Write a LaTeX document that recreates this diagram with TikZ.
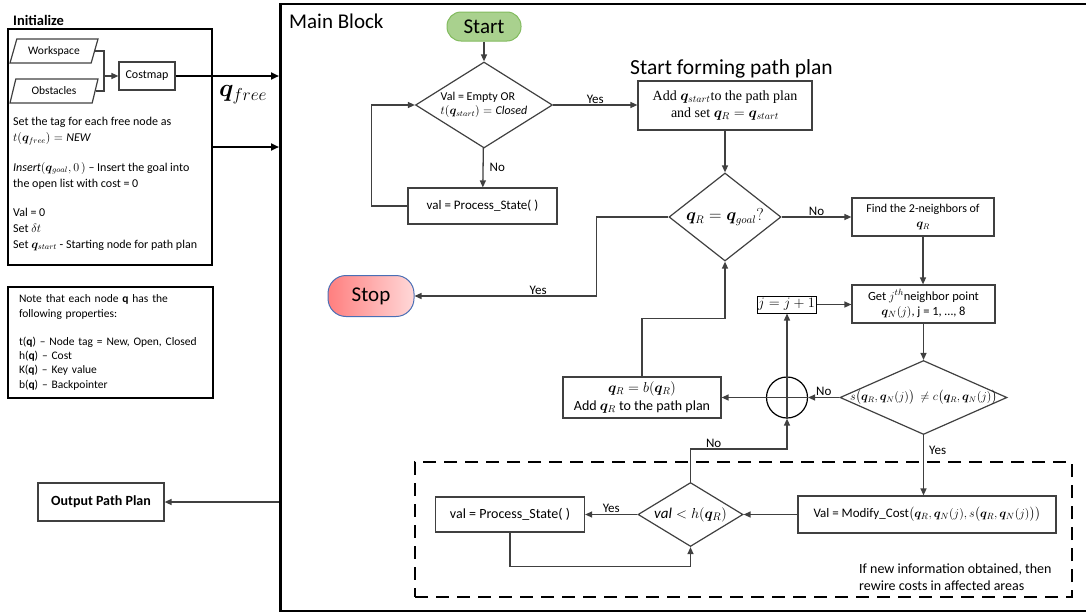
\documentclass[tikz,border=0pt]{standalone}
\usepackage{amsmath,bm}
\usepackage{fontspec}
\setmainfont{Carlito}
\newfontfamily\cam{Liberation Serif}
\usetikzlibrary{shapes.geometric,arrows.meta}
\definecolor{lc}{HTML}{404040}
\definecolor{startf}{HTML}{A9D18E}
\definecolor{startb}{HTML}{82BB5E}
\definecolor{stopl}{HTML}{FF7F7F}
\definecolor{stopr}{HTML}{FFD8D8}
\definecolor{stopb}{HTML}{4A6FB5}
\begin{document}
\begin{tikzpicture}[x=1pt,y=-1pt,
  conn/.style={draw=lc,line width=1.3pt},
  arr/.style={draw=lc,line width=1.3pt,-{Triangle[length=7pt,width=6pt]}},
  barr/.style={draw=black,line width=2pt,-{Triangle[length=8pt,width=7pt]}},
  box/.style={draw=lc,line width=1.2pt,rectangle,inner sep=2pt,align=center,font=\fontsize{13}{15}\selectfont},
  dia/.style={draw=lc,line width=1.2pt,diamond,inner sep=0pt},
  para/.style={draw=lc,line width=1.2pt,trapezium,trapezium left angle=60,trapezium right angle=120,trapezium stretches body,minimum width=88pt,minimum height=24pt,inner sep=1pt,font=\fontsize{11.5}{13}\selectfont},
  lbl/.style={font=\fontsize{13}{14}\selectfont,inner sep=1pt},
  txt/.style={anchor=west,align=left,inner sep=0pt,font=\fontsize{12}{16}\selectfont},
]
\useasboundingbox (0,0) rectangle (1086,613);

% Main block frame
\node[draw,line width=2.5pt,minimum width=815pt,minimum height=607pt,anchor=north west,inner sep=0pt] (mb) at (279,2.5) {};
\node[anchor=west,inner sep=0pt,font=\fontsize{21}{21}\selectfont] (mbt) at (289,21) {Main Block};
\node[anchor=west,inner sep=0pt,font=\fontsize{21.5}{21.5}\selectfont] (sfp) at (630,69) {Start forming path plan};

% Initialize block
\node[anchor=west,inner sep=0pt,font=\bfseries\fontsize{14.5}{15}\selectfont] (initt) at (13,20) {Initialize};
\node[draw,line width=2.5pt,minimum width=204pt,minimum height=236pt,inner sep=0pt] (init) at (110,147) {};
\node[para] (wsp) at (54,51) {Workspace};
\node[para] (obs) at (54,91) {Obstacles};
\node[box,font=\fontsize{12}{13}\selectfont,minimum width=56pt,minimum height=28pt] (cm) at (147,76) {Costmap};
\coordinate (jn) at (104,76);
\draw[conn] (wsp.east) -| (jn);
\draw[conn] (obs.east) -| (jn);
\draw[arr] (jn) -- (cm.west);
\node[txt] (t1) at (13,131) {Set the tag for each free node as\\$t(\bm q_{free}) = \mathit{NEW}$};
\node[txt] (t2) at (13,175.5) {$\mathit{Insert}(\bm q_{goal}, 0\,)$ – Insert the goal into\\the open list with cost = 0};
\node[txt] (t3) at (13,229) {Val = 0\\Set $\delta t$\\Set $\bm q_{start}$ - Starting node for path plan};

\draw[barr] (cm.east) -- (cm.east -| mb.west);
\draw[barr] (init.east) -- (init.east -| mb.west);
\node[font=\fontsize{25}{25}\selectfont] (qf) at (243,95) {$\bm q_{free}$};

% Note
\node[draw,line width=2.5pt,minimum width=205pt,minimum height=111pt,text width=183pt,align=left,inner xsep=11pt,font=\fontsize{11.5}{14.2}\selectfont] (note) at (110.5,342.5)
 {Note that each node \textbf{q} has the\\following properties:\\[14.2pt]t(\textbf{q}) – Node tag = New, Open, Closed\\h(\textbf{q}) – Cost\\K(\textbf{q}) – Key value\\b(\textbf{q}) – Backpointer};

% Output
\node[box,font=\bfseries\fontsize{14}{15}\selectfont,minimum width=126pt,minimum height=38pt] (out) at (101,502) {Output Path Plan};
\draw[arr] (out.east -| mb.west) -- (out.east);

% Main flow
\node[draw=startb,line width=1pt,fill=startf,rounded corners=14pt,minimum width=74pt,minimum height=29pt,inner sep=0pt,font=\fontsize{21}{21}\selectfont] (start) at (484,26.5) {Start};
\node[dia,minimum width=137pt,minimum height=86pt,label={[lbl,align=left,font=\fontsize{12}{13.5}\selectfont]center:{Val = Empty OR\\$t(\bm q_{start}) = \mathit{Closed}$}}] (d1) at (484,105) {};
\draw[arr] (start) -- (d1);
\node[box,font=\cam\fontsize{14}{17}\selectfont,minimum width=174pt,minimum height=49pt] (add) at (725,105.5) {Add $\bm q_{start}$to the path plan\\and set $\bm q_R = \bm q_{start}$};
\draw[arr] (d1.east) -- (d1.east -| add.west) node[lbl,midway,above]{Yes};
\node[box,minimum width=149pt,minimum height=36pt] (ps1) at (482.5,206) {val = Process\_State( )};
\draw[arr] (d1) -- (ps1) node[lbl,midway,right=5pt]{No};
\draw[arr] (ps1.west) -- ++(-36,0) |- (d1.west);

\node[dia,minimum width=112pt,minimum height=88pt,label={[font=\fontsize{16}{16}\selectfont]center:$\bm q_R = \bm q_{goal}?$}] (d2) at (725,217) {};
\draw[arr] (add) -- (d2);
\node[box,font=\fontsize{12}{15}\selectfont,minimum width=142pt,minimum height=38pt] (find) at (923,217) {Find the 2-neighbors of\\$\bm q_R$};
\draw[arr] (d2.east) -- (find.west) node[lbl,midway,above]{No};
\node[box,font=\fontsize{12.5}{15}\selectfont,minimum width=143pt,minimum height=38pt] (get) at (923.5,304) {Get $j^{th}$neighbor point\\$\bm q_N(j)$, j = 1, …, 8};
\draw[arr] (find) -- (find |- get.north);

\node[draw=stopb,line width=1pt,left color=stopl,right color=stopr,rounded corners=18pt,minimum width=86pt,minimum height=41pt,font=\fontsize{21}{21}\selectfont] (stop) at (371,296) {Stop};
\draw[arr] (d2.west) -- ++(-72,0) |- (stop.east) node[lbl,pos=0.66,above]{Yes};

\node[draw=black,line width=1pt,inner sep=1pt,minimum width=59pt,minimum height=17pt,font=\fontsize{13.5}{13.5}\selectfont] (jb) at (786.5,304.5) {$j = j+1$};
\draw[arr] (jb.east) -- (jb.east -| get.west);

\node[dia,minimum width=167pt,minimum height=74pt,label={[font=\fontsize{11.5}{12}\selectfont]center:$s\big(\bm q_R,\bm q_N(j)\big)\ \neq c\big(\bm q_R,\bm q_N(j)\big)$}] (d3) at (923.5,397.5) {};
\draw[arr] (get) -- (d3);

\node[circle,draw=black,line width=1.2pt,minimum size=41pt,inner sep=0pt] (cx) at (787,397.5) {};
\draw[conn] (cx.north) -- (cx.south);
\draw[conn] (cx.west) -- (cx.east);
\draw[arr] (d3.west) -- (cx.east) node[lbl,midway,above]{No};
\draw[arr] (cx.north) -- (cx.north |- jb.south);

\node[box,font=\fontsize{14}{18}\selectfont,minimum width=158pt,minimum height=41pt] (qr) at (642,397.5) {$\bm q_R = b(\bm q_R)$\\Add $\bm q_R$ to the path plan};
\draw[arr] (cx.west) -- (qr.east);
\draw[arr] (qr.north) -- ++(0,-58) -| (d2.south);

% Dashed region
\node[draw=black,line width=2.5pt,dash pattern=on 13pt off 8pt,minimum width=657pt,minimum height=135pt,inner sep=0pt] (region) at (743.5,529.5) {};
\node[txt,font=\fontsize{14}{17}\selectfont] (rw) at (859,577.5) {If new information obtained, then\\rewire costs in affected areas};

\node[box,font=\fontsize{13}{15}\selectfont,minimum width=258pt,minimum height=37pt] (mod) at (927,514.5) {Val = Modify\_Cost$\big(\bm q_R,\bm q_N(j), s\big(\bm q_R,\bm q_N(j)\big)\big)$};
\draw[arr] (d3.south) -- (d3.south |- mod.north) node[lbl,pos=0.25,right=4pt]{Yes};
\node[dia,minimum width=105pt,minimum height=64pt,label={[font=\fontsize{15}{15}\selectfont]center:$\mathit{val} < h(\bm q_R)$}] (d4) at (690.5,514.5) {};
\draw[arr] (mod.west) -- (d4.east);
\node[box,font=\fontsize{14}{15}\selectfont,minimum width=149pt,minimum height=35pt] (ps2) at (510,514.5) {val = Process\_State( )};
\draw[arr] (d4.west) -- (ps2.east) node[lbl,midway,above]{Yes};
\draw[arr] (ps2.south) -- ++(0,34) -| (d4.south);
\draw[arr] (d4.north) -- ++(0,-33) -| (cx.south) node[lbl,pos=0.12,above]{No};
\end{tikzpicture}
\end{document}
